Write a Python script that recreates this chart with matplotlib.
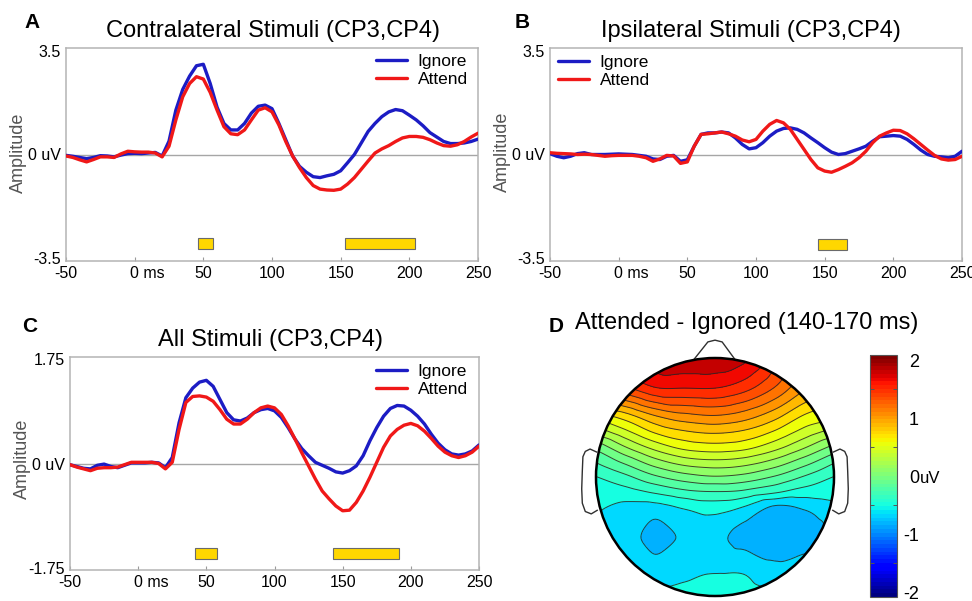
import numpy as np
import matplotlib
matplotlib.use('Agg')
import matplotlib.pyplot as plt
import matplotlib.tri as mtri
from matplotlib.transforms import offset_copy
from matplotlib.patches import Circle
from matplotlib.colors import Normalize
from matplotlib.cm import ScalarMappable

plt.rcParams['font.family'] = ['Liberation Sans', 'DejaVu Sans']

# time axis (ms)
t = np.arange(-50, 251, 5)

# Panel A - contralateral stimuli
a_ignore = [-0.03, -0.06, -0.10, -0.14, -0.10, -0.04, -0.05, -0.08, -0.02, 0.03,
            0.04, 0.03, 0.05, 0.07, -0.05, 0.45, 1.50, 2.20, 2.65, 3.00,
            3.05, 2.40, 1.60, 1.05, 0.83, 0.83, 1.05, 1.40, 1.63, 1.67,
            1.55, 1.05, 0.50, -0.05, -0.40, -0.60, -0.75, -0.78, -0.72, -0.67,
            -0.55, -0.28, 0.00, 0.39, 0.78, 1.05, 1.28, 1.44, 1.52, 1.48,
            1.33, 1.17, 0.97, 0.74, 0.59, 0.44, 0.37, 0.37, 0.39, 0.44, 0.52]
a_attend = [-0.05, -0.10, -0.18, -0.25, -0.17, -0.08, -0.08, -0.10, 0.02, 0.11,
            0.09, 0.08, 0.08, 0.05, -0.08, 0.28, 1.17, 1.95, 2.40, 2.63,
            2.55, 2.10, 1.50, 0.94, 0.70, 0.67, 0.83, 1.17, 1.50, 1.58,
            1.44, 1.00, 0.44, -0.05, -0.44, -0.78, -1.05, -1.17, -1.20, -1.21,
            -1.17, -1.00, -0.78, -0.50, -0.22, 0.05, 0.19, 0.30, 0.44, 0.56,
            0.61, 0.61, 0.58, 0.50, 0.39, 0.30, 0.28, 0.33, 0.44, 0.59, 0.72]
a_sig = [(46, 57), (153, 204)]

# Panel B - ipsilateral stimuli
b_ignore = [0.03, -0.06, -0.11, -0.06, 0.03, 0.06, 0.00, 0.00, 0.00, 0.01,
            0.02, 0.01, 0.00, -0.03, -0.06, -0.15, -0.17, -0.06, -0.03, -0.23,
            -0.18, 0.28, 0.68, 0.73, 0.73, 0.76, 0.73, 0.56, 0.34, 0.19,
            0.23, 0.40, 0.62, 0.79, 0.88, 0.90, 0.85, 0.73, 0.56, 0.40,
            0.23, 0.08, 0.00, 0.03, 0.11, 0.19, 0.28, 0.45, 0.60, 0.62,
            0.64, 0.62, 0.51, 0.34, 0.15, 0.00, -0.06, -0.08, -0.11, -0.06, 0.11]
b_attend = [0.06, 0.04, 0.03, 0.02, 0.00, 0.01, 0.00, -0.03, -0.06, -0.04,
            -0.03, -0.03, -0.03, -0.06, -0.11, -0.23, -0.15, -0.03, -0.05, -0.30,
            -0.25, 0.28, 0.68, 0.70, 0.73, 0.76, 0.70, 0.62, 0.49, 0.43,
            0.51, 0.79, 1.02, 1.15, 1.07, 0.85, 0.51, 0.17, -0.17, -0.45,
            -0.56, -0.60, -0.51, -0.40, -0.28, -0.11, 0.11, 0.40, 0.62, 0.73,
            0.82, 0.81, 0.70, 0.53, 0.34, 0.15, -0.03, -0.15, -0.19, -0.17, -0.06]
b_sig = [(145, 166)]

# Panel C - all stimuli
c_ignore = [-0.02, -0.05, -0.08, -0.09, -0.03, -0.01, -0.05, -0.07, -0.03, 0.01,
            0.01, 0.01, 0.02, 0.01, -0.07, 0.10, 0.68, 1.10, 1.26, 1.36,
            1.39, 1.29, 1.07, 0.85, 0.73, 0.71, 0.76, 0.85, 0.90, 0.92,
            0.88, 0.77, 0.60, 0.41, 0.25, 0.13, 0.02, -0.03, -0.08, -0.14,
            -0.16, -0.12, -0.04, 0.13, 0.38, 0.60, 0.79, 0.92, 0.97, 0.96,
            0.89, 0.79, 0.66, 0.49, 0.34, 0.23, 0.16, 0.14, 0.16, 0.21, 0.31]
c_attend = [-0.02, -0.06, -0.09, -0.12, -0.08, -0.07, -0.07, -0.06, -0.02, 0.02,
            0.02, 0.02, 0.02, 0.00, -0.09, 0.02, 0.57, 1.02, 1.12, 1.13,
            1.11, 1.04, 0.90, 0.74, 0.66, 0.66, 0.74, 0.85, 0.93, 0.96,
            0.93, 0.82, 0.63, 0.41, 0.18, -0.04, -0.26, -0.46, -0.59, -0.71,
            -0.79, -0.78, -0.65, -0.46, -0.23, 0.02, 0.27, 0.46, 0.57, 0.64,
            0.67, 0.63, 0.54, 0.42, 0.29, 0.19, 0.13, 0.10, 0.13, 0.19, 0.29]
c_sig = [(42, 58), (143, 191)]

xticks = [-50, 0, 50, 100, 150, 200, 250]
xticklabels = ['-50', '', '50', '100', '150', '200', '250']

# Panel D - scalp map, attended minus ignored (140-170 ms), uV on a head grid
grid_x = [-1.0, -0.75, -0.5, -0.25, 0.0, 0.25, 0.5, 0.75, 1.0]
grid_y = [1.0, 0.75, 0.5, 0.375, 0.25, 0.125, 0.0, -0.125, -0.25, -0.5, -0.75, -1.0]
topo = [
    [1.50, 1.70, 1.78, 1.80, 1.80, 1.72, 1.45, 1.15, 1.00],
    [1.20, 1.35, 1.52, 1.53, 1.53, 1.43, 1.22, 0.95, 0.80],
    [0.50, 0.68, 0.89, 1.00, 1.04, 0.97, 0.81, 0.59, 0.49],
    [0.22, 0.43, 0.64, 0.75, 0.79, 0.74, 0.60, 0.41, 0.25],
    [-0.08, 0.17, 0.38, 0.52, 0.56, 0.52, 0.38, 0.19, -0.02],
    [-0.27, -0.09, 0.11, 0.24, 0.28, 0.24, 0.12, -0.06, -0.26],
    [-0.43, -0.31, -0.15, -0.04, 0.01, -0.03, -0.14, -0.29, -0.43],
    [-0.50, -0.48, -0.40, -0.31, -0.28, -0.31, -0.40, -0.49, -0.50],
    [-0.56, -0.61, -0.62, -0.55, -0.50, -0.58, -0.74, -0.70, -0.62],
    [-0.66, -0.64, -0.80, -0.69, -0.69, -0.78, -0.82, -0.80, -0.70],
    [-0.62, -0.62, -0.66, -0.63, -0.60, -0.61, -0.70, -0.66, -0.65],
    [-0.60, -0.55, -0.55, -0.52, -0.50, -0.50, -0.55, -0.60, -0.60],
]
topo_levels = np.round(np.arange(-0.875, 1.83, 0.15), 3)
cbar_ticks = [-2, -1, 0, 1, 2]
cbar_labels = ['-2', '-1', '0', '1', '2']

BLUE = '#1c1cc4'
RED = '#f01818'
GOLD = '#ffd700'
SPINE = '#b4b4b4'

W, H = 972, 601
fig = plt.figure(figsize=(W / 100, H / 100), dpi=100)


def px_axes(left, top, right, bottom):
    return fig.add_axes([left / W, 1 - bottom / H, (right - left) / W, (bottom - top) / H])


def erp_panel(ax, ign, att, lim, ytick, ytick_txt, sig, bar_lo, bar_hi, leg_xy):
    ax.axhline(0, color='#a6a6a6', lw=1.0, zorder=1)
    ax.plot(t, ign, color=BLUE, lw=2.4, label='Ignore', zorder=3, solid_capstyle='round')
    ax.plot(t, att, color=RED, lw=2.4, label='Attend', zorder=4, solid_capstyle='round')
    for s, e in sig:
        ax.bar(s, bar_hi - bar_lo, width=e - s, bottom=bar_lo, align='edge',
               color=GOLD, edgecolor='#6a6a6a', lw=0.8, zorder=2)
    ax.set_xlim(-50, 250)
    ax.set_ylim(-lim, lim)
    ax.set_xticks(xticks)
    ax.set_xticklabels(xticklabels)
    ax.set_yticks([-ytick, 0, ytick])
    ax.set_yticklabels(['-' + ytick_txt, '0 uV', ytick_txt])
    ax.tick_params(axis='x', direction='in', length=3, color='#9a9a9a', labelsize=11.5, pad=3.5)
    ax.tick_params(axis='y', length=0, labelsize=11.5, pad=4)
    for sp in ax.spines.values():
        sp.set_color(SPINE)
        sp.set_linewidth(1.1)
    # "0 ms" label with the zero centred on its tick
    tr = offset_copy(ax.get_xaxis_transform(), fig=fig, x=-3.2, y=-3.5, units='points')
    ax.text(0, 0, '0 ms', transform=tr, ha='left', va='top', fontsize=11.5)
    ax.legend(loc='upper left', bbox_to_anchor=(leg_xy[0] / W, 1 - leg_xy[1] / H),
              bbox_transform=fig.transFigure, frameon=False, borderpad=0, borderaxespad=0,
              handlelength=1.8, handletextpad=0.6, labelspacing=0.17, fontsize=12.5)


axA = px_axes(66, 48, 478, 261)
erp_panel(axA, a_ignore, a_attend, 3.6, 3.5, '3.5', a_sig, -3.19, -2.83, (376, 54))
axB = px_axes(550, 48, 962, 261)
erp_panel(axB, b_ignore, b_attend, 3.6, 3.5, '3.5', b_sig, -3.22, -2.86, (558, 55))
axC = px_axes(70, 357, 479, 570)
erp_panel(axC, c_ignore, c_attend, 1.78, 1.75, '1.75', c_sig, -1.59, -1.42, (376, 364))

# titles, panel letters and y labels
fig.text(272.5 / W, 1 - 30.5 / H, 'Contralateral Stimuli (CP3,CP4)', ha='center', va='center', fontsize=17)
fig.text(751 / W, 1 - 30.5 / H, 'Ipsilateral Stimuli (CP3,CP4)', ha='center', va='center', fontsize=17)
fig.text(271 / W, 1 - 340 / H, 'All Stimuli (CP3,CP4)', ha='center', va='center', fontsize=17)
fig.text(747 / W, 1 - 323 / H, 'Attended - Ignored (140-170 ms)', ha='center', va='center', fontsize=17)
for letter, x, y in [('A', 32, 22), ('B', 522, 22), ('C', 30, 327), ('D', 556, 327)]:
    fig.text(x / W, 1 - y / H, letter, ha='center', va='center', fontsize=15, fontweight='bold')
for x, y in [(18, 153), (502, 152), (22, 459)]:
    fig.text(x / W, 1 - y / H, 'Amplitude', rotation=90, ha='center', va='center',
             fontsize=13, color='#555555')

# ---- scalp map ----
axD = px_axes(575, 330, 855, 601)
axD.set_xlim(-140 / 119, 140 / 119)
axD.set_ylim(-124 / 119, 147 / 119)
axD.axis('off')

gx, gy = np.meshgrid(grid_x, grid_y)
z = np.array(topo).ravel()
tri = mtri.Triangulation(gx.ravel(), gy.ravel())
interp = mtri.CubicTriInterpolator(tri, z, kind='geom')
tri_f, z_f = mtri.UniformTriRefiner(tri).refine_field(z, triinterpolator=interp, subdiv=4)

topo_norm = Normalize(-2, 2)
topo_cmap = plt.get_cmap('jet').copy()
topo_cmap.set_over(topo_cmap(topo_norm(topo_levels[-1] - 0.075)))
topo_cmap.set_under(topo_cmap(topo_norm(topo_levels[0] + 0.075)))

head = Circle((0, 0), 1.0, transform=axD.transData)
cf = axD.tricontourf(tri_f, z_f, levels=topo_levels, cmap=topo_cmap, norm=topo_norm,
                     extend='both', zorder=1)
cf.set_clip_path(head)
cl = axD.tricontour(tri_f, z_f, levels=topo_levels[1:-1], colors='#262626', linewidths=0.7,
                    linestyles='solid', alpha=0.85, zorder=2)
cl.set_clip_path(head)
axD.add_patch(Circle((0, 0), 1.0, fill=False, lw=1.8, color='black', zorder=5))

nose_x = [-0.18, -0.06, 0.0, 0.06, 0.17]
nose_y = [0.984, 1.135, 1.15, 1.135, 0.985]
axD.plot(nose_x, nose_y, color='#303030', lw=1.0, zorder=4)
ear_x = np.array([-0.995, -1.05, -1.09, -1.11, -1.115, -1.12, -1.115, -1.09, -1.04, -0.99])
ear_y = np.array([0.21, 0.235, 0.215, 0.17, 0.05, -0.10, -0.22, -0.29, -0.31, -0.28])
axD.plot(ear_x, ear_y, color='#303030', lw=1.0, zorder=4)
axD.plot(-ear_x, ear_y, color='#303030', lw=1.0, zorder=4)

# colorbar
cax = px_axes(870, 355, 897, 597)
sm = ScalarMappable(norm=Normalize(-2.08, 2.09), cmap=plt.get_cmap('jet', 64))
cb = fig.colorbar(sm, cax=cax)
cb.set_ticks(cbar_ticks)
cb.set_ticklabels(cbar_labels)
cb.outline.set_linewidth(0.8)
cb.outline.set_edgecolor('#555555')
cax.yaxis.set_minor_locator(matplotlib.ticker.MultipleLocator(0.5))
cax.tick_params(which='major', length=0, labelsize=13, pad=15.8)
cax.tick_params(which='minor', direction='in', left=True, right=True, length=3,
                color='#555555', width=0.7)
for lab in cax.get_yticklabels():
    lab.set_horizontalalignment('right')
tr = offset_copy(cax.get_yaxis_transform(), fig=fig, x=23, y=-6.5, units='dots')
cax.text(1, 0, 'uV', transform=tr, ha='left', va='baseline', fontsize=12)

fig.savefig('out.png', dpi=100)
